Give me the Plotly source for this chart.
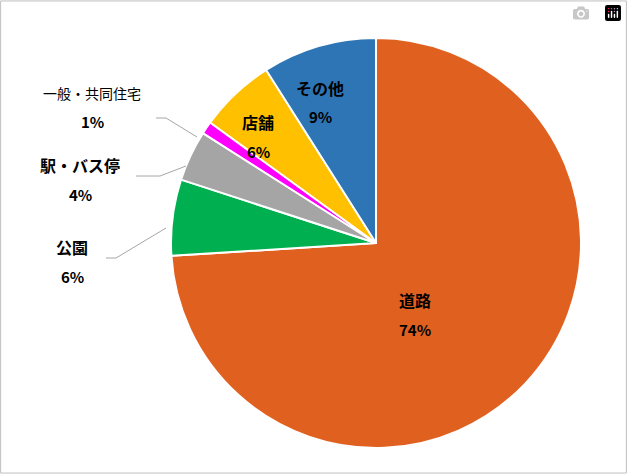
import plotly.graph_objects as go

labels = ["道路", "公園", "駅・バス停", "一般・共同住宅", "店舗", "その他"]
values = [74, 6, 4, 1, 6, 9]
colors = ["#E06020", "#00B050", "#A5A5A5", "#FF00FF", "#FFC000", "#2E75B6"]

W, H = 627, 474
fig = go.Figure(go.Pie(
    labels=labels, values=values, sort=False, direction="clockwise", rotation=0,
    marker=dict(colors=colors, line=dict(color="white", width=2)),
    textinfo="none", hoverinfo="label+percent",
    domain=dict(x=[171 / W, 581 / W], y=[26 / H, 436 / H]),
))

# label positions in pixels (x, y of label center), font size, bold
label_pos = {
    "道路": (415, 300, 16, True),
    "公園": (72, 247, 16, True),
    "駅・バス停": (80, 165, 16, True),
    "一般・共同住宅": (92, 93, 14, False),
    "店舗": (258, 122, 16, True),
    "その他": (320, 88, 16, True),
}
ann = []
total = sum(values)
for lab, v in zip(labels, values):
    x, y, fs, bold = label_pos[lab]
    t = f"<b>{lab}</b>" if bold else lab
    ann.append(dict(x=x / W, y=1 - y / H, xref="paper", yref="paper", showarrow=False,
                    xanchor="center", yanchor="middle",
                    text=t, font=dict(size=fs, color="black")))
    ann.append(dict(x=x / W, y=1 - (y + 29) / H, xref="paper", yref="paper", showarrow=False,
                    xanchor="center", yanchor="middle",
                    text=f"<b>{round(v / total * 100)}%</b>", font=dict(size=15, color="black")))

leaders = [
    [(156, 118), (166, 118), (197, 137)],
    [(136, 176), (160, 176), (186, 166)],
    [(106, 258), (116, 258), (166, 228)],
]
shapes = [dict(type="rect", xref="paper", yref="paper", x0=0.001, y0=0.002, x1=0.999, y1=0.998,
               line=dict(color="#BFBFBF", width=1))]
for pts in leaders:
    path = "M " + " L ".join(f"{px / W},{1 - py / H}" for px, py in pts)
    shapes.append(dict(type="path", xref="paper", yref="paper", path=path,
                       line=dict(color="#A6A6A6", width=1)))

fig.update_layout(
    width=W, height=H, margin=dict(l=0, r=0, t=0, b=0), showlegend=False,
    paper_bgcolor="white", annotations=ann, shapes=shapes,
    font=dict(family="Noto Sans CJK JP"),
)
fig.write_html("out.html")

# drop the default body margin so the figure sits at the window's corner
with open("out.html", encoding="utf-8") as f:
    html = f.read()
html = html.replace("<head>", "<head><style>body{margin:0;overflow:hidden}</style>", 1)
with open("out.html", "w", encoding="utf-8") as f:
    f.write(html)
